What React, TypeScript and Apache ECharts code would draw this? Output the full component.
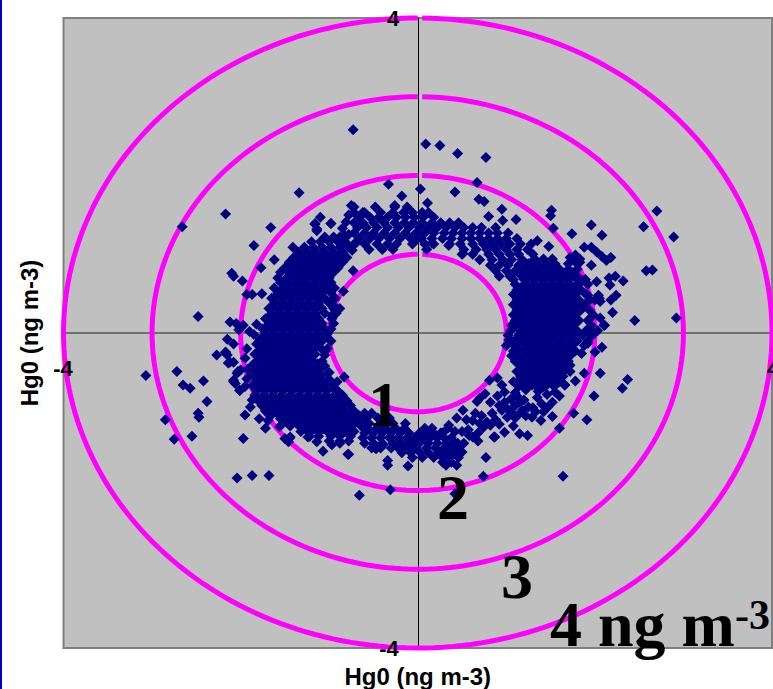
import React, { useEffect, useRef } from "react";
import * as echarts from "echarts";

const axisLabelText = "Hg0 (ng m-3)";
const ringRadii = [1, 2, 3, 4];
const ringLabels = ["1", "2", "3", "4 ng m", "-3"];
const tickMin = "-4";
const tickMax = "4";

// Isolated points, [Hg0 x, Hg0 y]
const outliers = [
  [-0.73,2.58],[-1.34,1.78],[-2.17,1.51],[-2.66,1.35],[-1.66,1.34],[-1.85,1.11],[-1.62,0.93],[-1.77,0.83],[-2.1,0.76],[-2.08,0.72],
  [-1.98,0.66],[-1.93,0.49],[-1.87,0.49],[-1.76,0.5],[-2.48,0.21],[-2.12,0.14],[-2.05,0.12],[-1.97,0.1],[-2.02,0.04],[-1.82,0.11],
  [-1.41,1.09],[-0.33,1.89],[-1.1,1.47],[-1.16,1.38],[-1.14,1.3],[-0.98,1.39],[-0.73,0.79],[-0.84,0.53],[-1.9,0.02],[-1.85,-0.02],
  [0.09,2.4],[0.25,2.38],[0.45,2.28],[0.77,2.23],[0.67,1.91],[0.03,1.83],[0.42,1.79],[0.69,1.7],[0.75,1.67],[0.95,1.57],[0.11,1.65],
  [1.51,1.56],[1.5,1.49],[1.11,1.44],[0.96,1.43],[0.8,1.48],[1.53,1.33],[1.96,1.37],[1.74,1.26],[2.08,1.24],[2.7,1.55],[2.55,1.35],[2.89,1.22],
  [1.35,1.17],[1.48,1.1],[1.88,1.09],[1.96,1.09],[2.02,1.03],[2.08,0.97],[2.13,0.92],[2.18,0.96],[1.96,0.86],[2.58,0.79],[2.65,0.8],
  [2.23,0.72],[2.16,0.7],[2.32,0.66],[2.17,0.61],[2.02,0.65],[2.24,0.48],[2.18,0.42],[2.2,0.26],[2.45,0.16],[2.92,0.19],[2.1,0.1],
  [2.04,0.48],[2.06,0.4],[1.89,0.68],[1.76,0.73],[0.35,1.11],[-0.03,1.17],[0.16,1.14],[0.51,1.01],
  [-3.07,-0.54],[-2.72,-0.49],[-2.65,-0.66],[-2.57,-0.7],[-2.42,-0.61],[-2.38,-0.87],[-2.48,-1.02],[-2.47,-1.07],[-2.85,-1.1],[-2.75,-1.35],
  [-2.55,-1.31],[-1.97,-1.34],[-2.04,-1.84],[-1.87,-1.81],[-1.68,-1.81],[-2.27,-0.28],[-2.17,-0.25],[-2.12,-0.37],[-2.08,-0.62],[-2.01,-0.73],
  [-2.03,-0.49],[-1.95,-1.04],[-1.79,-1.09],[-1.69,-1.11],[-1.72,-1.21],[-1.56,-1.19],[-1.45,-1.34],[-1.07,-1.5],[-0.78,-1.54],[-0.34,-1.62],
  [-0.34,-1.68],[-0.31,-1.99],[-0.66,-2.06],[-0.47,-1.47],[-0.83,-0.56],
  [2.06,-0.51],[2.37,-0.59],[2.31,-0.7],[1.99,-0.8],[1.76,-1.02],[1.91,-1.1],[1.6,-1.21],[1.64,-1.82],[0.77,-1.58],[0.74,-1.82],[0.42,-2.04],
  [-0.11,-1.69],[1.15,-1.28],[1.24,-1.3],[0.86,-1.32],[0.81,-0.6],[1.88,-0.51],[1.78,-0.61],[1.52,-1.06],[1.06,-0.29],[0.51,-0.98],[0.44,-1.08],[0.35,-1.17],
  [0.9,-0.57],[0.95,-0.66],[0.98,-0.75],[0.76,-0.77],[0.7,-0.83],[0.67,-0.87],[0.82,-0.88],[0.65,-1.02],[0.62,-1.11],[0.84,-1.02],[0.78,-1.13],
  [0.74,-1.2],[0.82,-1.17],[0.87,-1.32],[0.98,-1.26],[0.98,-0.88],[0.95,-0.98],[1.01,-1.07],[1.1,-1.08],[1.18,-0.98],[1.25,-0.94],[1.1,-0.92],
  [1.29,-1.07],[1.39,-1.11],[1.47,-0.94],[1.52,-0.88],[0.57,-1.23],[0.62,-1.32],[0.68,-1.27],[0.45,-1.4],[0.5,-1.51],
  [1.1,-0.76],[1.29,-0.66],[1.41,-0.69],[1.55,-0.75],[1.66,-0.66],[1.2,-0.85],[1.35,-0.82],[1.05,-0.84],[1.42,-1.0],[1.3,-0.95],
];

// Points along the ragged edges of the clouds
const edgePoints = [
  [-2.15,-0.08],[-2.08,-0.14],[-2.17,-0.24],[-2.15,-0.28],[-2.14,-0.38],[-2.08,-0.37],[-2.0,-0.47],[-2.04,-0.51],[-2.08,-0.6],[-2.06,-0.64],
  [-2.01,-0.73],[-1.95,-0.68],[-1.87,-0.85],[-1.89,-0.94],[-1.84,-0.7],[-1.5,-1.34],[-1.44,-1.32],[-1.46,-1.38],[-1.24,-1.32],[-1.14,-1.38],
  [-0.97,-1.42],[-0.88,-1.4],[-0.79,-1.54],[-0.48,-1.46],[-0.39,-1.42],[-0.31,-1.32],[-1.93,-0.2],[-1.95,-0.32],[-1.92,-0.46],[-1.93,-0.58],
  [-1.13,-0.39],[-0.91,-0.62],[-0.99,-0.6],[-0.9,-0.74],[-1.14,-0.15],[-1.1,-0.12],[-1.0,-0.5],[-1.05,-0.42],
  [-0.97,0.22],[-0.98,-0.1],[-1.02,-0.2],[-1.05,-0.28],[-1.08,-0.36],
  [-1.16,1.39],[-1.14,1.32],[-0.98,1.39],[-0.81,1.41],[-0.85,1.33],[-0.83,1.24],[-0.69,1.15],[-0.62,1.53],[-0.26,1.62],[-0.18,1.74],
  [-0.93,0.44],[-0.95,0.35],[-0.85,1.2],[-0.78,1.25],[-0.8,1.12],[-0.74,1.05],[-0.78,1.5],[-0.75,1.62],
  [1.72,0.96],[1.78,0.99],[1.83,0.9],[1.74,0.77],[1.81,0.71],[1.89,0.68],[1.92,0.48],[2.0,0.42],[2.05,0.44],[1.98,0.23],[2.06,0.19],[2.11,0.1],
  [1.91,0.03],[1.97,-0.03],[2.03,0.03],[1.98,0.0],[1.92,-0.13],[2.0,-0.24],[2.08,-0.18],[1.85,-0.26],[1.72,-0.41],[1.66,-0.66],[1.58,-0.62],
  [1.03,-0.09],[1.08,-0.15],[1.12,-0.8],[1.22,-0.72],[1.36,-0.74],[1.46,-0.78],[1.6,-0.8],[1.0,-0.95],[1.05,-1.0],[1.15,-1.02],[1.22,-1.05],
  [1.33,-1.0],[0.9,-0.8],[0.92,-0.92],[1.15,-0.88],[1.4,-0.9],[0.88,-1.1],[0.92,-1.16],[1.08,-1.18],[0.72,-1.05],[0.7,-1.15],[0.55,-1.1],
  [0.58,-1.3],[0.68,-1.37],[0.5,-1.25],[0.42,-1.25],[0.28,-1.27],[0.52,-1.4],[0.4,-1.52],[0.46,-1.58],
];

// Dense clouds, read row by row: [Hg0 y, [Hg0 x values in that row]]
const leftCloud: [number, number[]][] = [
  [1.22,[-1.05,-0.95,-0.88]],
  [1.16,[-1.2,-1.1,-1.0,-0.9,-0.82]],
  [1.09,[-1.28,-1.18,-1.08,-0.98,-0.88,-0.78]],
  [1.03,[-1.35,-1.25,-1.15,-1.05,-0.95,-0.85]],
  [0.96,[-1.4,-1.3,-1.2,-1.1,-1.0,-0.9,-0.8]],
  [0.9,[-1.45,-1.35,-1.25,-1.15,-1.05,-0.95,-0.85]],
  [0.83,[-1.5,-1.4,-1.3,-1.2,-1.1,-1.0,-0.9]],
  [0.77,[-1.55,-1.45,-1.35,-1.25,-1.15,-1.05,-0.95]],
  [0.7,[-1.58,-1.48,-1.38,-1.28,-1.18,-1.08,-1.0]],
  [0.64,[-1.55,-1.45,-1.35,-1.25,-1.15,-1.05,-0.98]],
  [0.57,[-1.62,-1.52,-1.42,-1.32,-1.22,-1.12,-1.02,-0.94]],
  [0.51,[-1.58,-1.48,-1.38,-1.28,-1.18,-1.08,-0.98]],
  [0.44,[-1.65,-1.55,-1.45,-1.35,-1.25,-1.15,-1.05,-0.95]],
  [0.38,[-1.62,-1.52,-1.42,-1.32,-1.22,-1.12,-1.0]],
  [0.31,[-1.68,-1.58,-1.48,-1.38,-1.28,-1.18,-1.08,-0.95,-0.88]],
  [0.25,[-1.65,-1.55,-1.45,-1.35,-1.25,-1.15,-1.05,-0.92]],
  [0.18,[-1.72,-1.62,-1.52,-1.42,-1.32,-1.22,-1.12,-0.97]],
  [0.12,[-1.68,-1.58,-1.48,-1.38,-1.28,-1.18,-1.08,-0.95]],
  [0.05,[-1.75,-1.65,-1.55,-1.45,-1.35,-1.25,-1.15,-1.05,-0.98]],
  [-0.01,[-1.72,-1.62,-1.52,-1.42,-1.32,-1.22,-1.12,-1.02]],
  [-0.08,[-1.78,-1.68,-1.58,-1.48,-1.38,-1.28,-1.18,-1.06]],
  [-0.14,[-1.82,-1.72,-1.62,-1.52,-1.42,-1.32,-1.22,-1.12]],
  [-0.21,[-1.78,-1.68,-1.58,-1.48,-1.38,-1.28,-1.18,-1.08]],
  [-0.27,[-1.84,-1.74,-1.64,-1.54,-1.44,-1.34,-1.24,-1.16]],
  [-0.34,[-1.8,-1.7,-1.6,-1.5,-1.4,-1.3,-1.2]],
  [-0.4,[-1.86,-1.76,-1.66,-1.56,-1.46,-1.36,-1.26,-1.16]],
  [-0.47,[-1.82,-1.72,-1.62,-1.52,-1.42,-1.32,-1.22,-1.12]],
  [-0.53,[-1.86,-1.76,-1.66,-1.56,-1.46,-1.36,-1.26,-1.16,-1.08]],
  [-0.6,[-1.82,-1.72,-1.62,-1.52,-1.42,-1.32,-1.22,-1.12,-1.02]],
  [-0.66,[-1.86,-1.76,-1.66,-1.56,-1.46,-1.36,-1.26,-1.16,-1.06,-0.96]],
  [-0.73,[-1.82,-1.72,-1.62,-1.52,-1.42,-1.32,-1.22,-1.12,-1.02,-0.92]],
  [-0.79,[-1.84,-1.74,-1.64,-1.54,-1.44,-1.34,-1.24,-1.14,-1.04,-0.94,-0.85]],
  [-0.86,[-1.8,-1.7,-1.6,-1.5,-1.4,-1.3,-1.2,-1.1,-1.0,-0.9,-0.8]],
  [-0.92,[-1.76,-1.66,-1.56,-1.46,-1.36,-1.26,-1.16,-1.06,-0.96,-0.86,-0.76]],
  [-0.99,[-1.72,-1.62,-1.52,-1.42,-1.32,-1.22,-1.12,-1.02,-0.92,-0.82,-0.72]],
  [-1.05,[-1.66,-1.56,-1.46,-1.36,-1.26,-1.16,-1.06,-0.96,-0.86,-0.76,-0.66]],
  [-1.12,[-1.5,-1.4,-1.3,-1.2,-1.1,-1.0,-0.9,-0.8,-0.7,-0.6]],
  [-1.18,[-1.44,-1.34,-1.24,-1.14,-1.04,-0.94,-0.84,-0.74,-0.64]],
  [-1.25,[-1.32,-1.22,-1.12,-1.02,-0.92,-0.82,-0.72]],
  [-1.31,[-1.22,-1.12,-0.98,-0.88,-0.76]],
  [-1.37,[-1.0,-0.88,-0.78]],
];

// Second reading of the solid parts of the left and right clouds
const leftCore: [number, number[]][] = [
  [1.0,[-1.25,-1.15,-1.05,-0.95]],[0.87,[-1.37,-1.27,-1.17,-1.07,-0.97]],[0.74,[-1.42,-1.32,-1.22,-1.12,-1.02]],
  [0.6,[-1.5,-1.4,-1.3,-1.2,-1.1]],[0.47,[-1.6,-1.5,-1.4,-1.3,-1.2,-1.1]],[0.34,[-1.63,-1.53,-1.43,-1.33,-1.23,-1.13]],
  [0.21,[-1.67,-1.57,-1.47,-1.37,-1.27,-1.17]],[0.08,[-1.7,-1.6,-1.5,-1.4,-1.3,-1.2,-1.1]],[-0.05,[-1.73,-1.63,-1.53,-1.43,-1.33,-1.23,-1.13]],
  [-0.18,[-1.75,-1.65,-1.55,-1.45,-1.35,-1.25,-1.15]],[-0.31,[-1.77,-1.67,-1.57,-1.47,-1.37,-1.27]],[-0.44,[-1.77,-1.67,-1.57,-1.47,-1.37,-1.27,-1.17]],
  [-0.57,[-1.79,-1.69,-1.59,-1.49,-1.39,-1.29,-1.19]],[-0.7,[-1.79,-1.69,-1.59,-1.49,-1.39,-1.29,-1.19,-1.09]],[-0.83,[-1.75,-1.65,-1.55,-1.45,-1.35,-1.25,-1.15,-1.05,-0.95]],
  [-0.96,[-1.67,-1.57,-1.47,-1.37,-1.27,-1.17,-1.07,-0.97,-0.87]],[-1.09,[-1.55,-1.45,-1.35,-1.25,-1.15,-1.05,-0.95,-0.85,-0.75]],[-1.22,[-1.27,-1.17,-1.07,-0.97,-0.87,-0.77]],
];

const rightCore: [number, number[]][] = [
  [0.71,[1.25,1.35,1.45,1.55,1.65]],[0.58,[1.17,1.27,1.37,1.47,1.57,1.67,1.77]],[0.45,[1.17,1.27,1.37,1.47,1.57,1.67,1.77]],
  [0.32,[1.17,1.27,1.37,1.47,1.57,1.67,1.77]],[0.19,[1.15,1.25,1.35,1.45,1.55,1.65,1.75]],[0.06,[1.13,1.23,1.33,1.43,1.53,1.63,1.73]],
  [-0.07,[1.12,1.23,1.33,1.43,1.53,1.63,1.73]],[-0.2,[1.13,1.23,1.33,1.43,1.53,1.63,1.73]],[-0.33,[1.17,1.27,1.37,1.47,1.57,1.67]],
  [-0.46,[1.17,1.27,1.37,1.47,1.57,1.67]],[-0.59,[1.15,1.25,1.35,1.45,1.55]],
];

const topArc: [number, number[]][] = [
  [1.6,[-0.72,-0.48,-0.26,-0.12]],
  [1.53,[-0.72,-0.6,-0.42,-0.28,-0.16,-0.06,0.05,0.12]],
  [1.47,[-0.66,-0.54,-0.44,-0.34,-0.24,-0.14,-0.04,0.06,0.18]],
  [1.4,[-0.72,-0.62,-0.5,-0.38,-0.26,-0.15,-0.05,0.05,0.16,0.26,0.36,0.46]],
  [1.34,[-0.68,-0.58,-0.46,-0.34,-0.22,-0.1,0.02,0.12,0.22,0.32,0.42,0.52,0.62,0.72,0.88]],
  [1.27,[-0.72,-0.6,-0.5,-0.38,-0.26,-0.14,-0.02,0.08,0.18,0.3,0.4,0.5,0.6,0.7,0.8,0.9,1.02]],
  [1.2,[-0.66,-0.54,-0.44,-0.32,-0.2,-0.08,0.04,0.16,0.28,0.38,0.5,0.6,0.7,0.8,0.9,1.0,1.12]],
  [1.13,[-0.72,-0.6,-0.46,-0.34,-0.24,-0.06,0.08,0.18,0.36,0.48,0.62,0.74,0.84,0.94,1.04,1.16,1.28]],
  [1.06,[-0.55,-0.4,-0.28,0.1,0.52,0.66,0.78,0.88,1.0,1.12,1.24]],
  [1.0,[0.5,0.62,0.8,0.92,1.04,1.14,1.3]],
  [0.93,[0.7,0.84,0.96,1.06,1.18,1.32]],
  [0.86,[0.82,0.92,1.02,1.14]],
  [0.79,[0.88,1.0,1.1]],
  [0.72,[0.92,1.04]],
];

const rightCloud: [number, number[]][] = [
  [0.94,[1.32,1.42,1.52,1.75,1.83]],
  [0.88,[1.25,1.35,1.45,1.55,1.7,1.8]],
  [0.81,[1.2,1.3,1.4,1.5,1.6,1.7,1.8]],
  [0.75,[1.15,1.25,1.35,1.45,1.55,1.65,1.75]],
  [0.68,[1.08,1.2,1.3,1.4,1.5,1.6,1.7,1.8]],
  [0.62,[1.1,1.22,1.32,1.42,1.52,1.62,1.72,1.82,1.92]],
  [0.55,[1.12,1.22,1.32,1.42,1.52,1.62,1.72,1.84]],
  [0.49,[1.08,1.18,1.28,1.38,1.48,1.58,1.68,1.78,1.9]],
  [0.42,[1.12,1.22,1.32,1.42,1.52,1.62,1.72,1.82,1.94]],
  [0.36,[1.08,1.18,1.28,1.38,1.48,1.58,1.68,1.78,1.88]],
  [0.29,[1.12,1.22,1.32,1.42,1.52,1.62,1.72,1.84,1.94]],
  [0.23,[1.08,1.18,1.28,1.38,1.48,1.58,1.68,1.78,1.98]],
  [0.16,[1.1,1.2,1.3,1.4,1.5,1.6,1.7,1.82,1.92]],
  [0.1,[1.06,1.16,1.26,1.36,1.46,1.56,1.66,1.76,1.96]],
  [0.03,[1.05,1.18,1.28,1.38,1.48,1.58,1.68,1.8,1.9]],
  [-0.03,[1.02,1.14,1.24,1.34,1.44,1.54,1.64,1.74,1.86,1.97]],
  [-0.1,[1.06,1.18,1.28,1.38,1.48,1.58,1.68,1.8,1.92]],
  [-0.16,[1.0,1.12,1.24,1.34,1.44,1.54,1.64,1.74,1.88]],
  [-0.23,[1.08,1.18,1.28,1.38,1.48,1.58,1.68,1.78]],
  [-0.29,[1.14,1.24,1.34,1.44,1.54,1.64,1.72]],
  [-0.36,[1.1,1.2,1.3,1.4,1.5,1.6,1.7]],
  [-0.42,[1.16,1.26,1.36,1.46,1.56,1.66]],
  [-0.49,[1.12,1.22,1.32,1.42,1.52,1.62,1.72]],
  [-0.55,[1.16,1.26,1.36,1.46,1.56,1.64]],
  [-0.62,[1.08,1.2,1.3,1.4,1.5,1.6]],
  [-0.68,[1.14,1.24,1.34,1.44,1.54]],
];

const bottomArc: [number, number[]][] = [
  [-1.02,[-0.6,-0.52]],
  [-1.08,[-0.58,-0.45,-0.32]],
  [-1.15,[-0.55,-0.42,-0.28,-0.14]],
  [-1.21,[-0.56,-0.46,-0.36,-0.25,-0.15,0.08,0.16,0.34]],
  [-1.27,[-0.6,-0.5,-0.4,-0.3,-0.2,-0.1,0.02,0.1,0.18,0.26]],
  [-1.33,[-0.62,-0.52,-0.42,-0.32,-0.22,-0.12,-0.03,0.06,0.14,0.22,0.3,0.38]],
  [-1.4,[-0.6,-0.5,-0.4,-0.28,-0.18,-0.08,0.02,0.12,0.22,0.32,0.42]],
  [-1.46,[-0.52,-0.42,-0.3,-0.22,-0.12,-0.02,0.1,0.2,0.3,0.38,0.46]],
  [-1.52,[-0.18,-0.08,0.03,0.12,0.24,0.34,0.42]],
  [-1.58,[-0.06,0.05,0.18,0.28,0.36]],
  [-1.64,[0.28,0.38]],
  [-1.68,[0.32,0.44]],
];

const unpack = (rows: [number, number[]][]) => rows.flatMap(([y, xs]) => xs.map((x) => [x, y]));
const points = [
  ...unpack(topArc), ...unpack(bottomArc), ...unpack(leftCloud), ...unpack(leftCore),
  ...unpack(rightCloud), ...unpack(rightCore), ...edgePoints, ...outliers,
];

const serif = '"Liberation Serif", "Times New Roman", serif';
const sans = '"Liberation Sans", Arial, sans-serif';

export default function App() {
  const ref = useRef<HTMLDivElement>(null);
  useEffect(() => {
    const chart = echarts.init(ref.current!, undefined, { renderer: "svg" });
    const bigLabel = (text: string, x: number, y: number, size = 64) => ({
      type: "text", x, y, z: 50,
      style: { text, font: `bold ${size}px ${serif}`, fill: "#000", textAlign: "left", textVerticalAlign: "bottom" },
    });
    const tickLabel = (text: string, x: number, y: number) => ({
      type: "text", x, y, z: 50,
      style: { text, font: `bold 22px ${sans}`, fill: "#000", textAlign: "center", textVerticalAlign: "middle" },
    });
    chart.setOption({
      animation: false,
      backgroundColor: "#fff",
      grid: { left: 63.5, top: 18, width: 708.5, height: 630, outerBoundsMode: "none", show: false },
      xAxis: {
        type: "value", min: -4, max: 4, interval: 4, z: 1,
        position: "bottom", offset: -315,
        name: axisLabelText, nameLocation: "middle", nameGap: 331,
        nameTextStyle: { fontFamily: sans, fontWeight: "bold", fontSize: 24, color: "#000" },
        axisLine: { onZero: false, lineStyle: { color: "#555", width: 1.5 } },
        axisTick: { show: false }, splitLine: { show: false }, axisLabel: { show: false },
      },
      yAxis: {
        type: "value", min: -4, max: 4, interval: 4, z: 1,
        position: "left", offset: -354.25,
        name: axisLabelText, nameLocation: "middle", nameGap: 376,
        nameTextStyle: { fontFamily: sans, fontWeight: "bold", fontSize: 24, color: "#000" },
        axisLine: { onZero: false, lineStyle: { color: "#000", width: 1 } },
        axisTick: { show: false }, splitLine: { show: false }, axisLabel: { show: false },
      },
      series: [
        {
          type: "custom",
          coordinateSystem: "cartesian2d",
          clip: false,
          silent: true,
          z: 2,
          encode: { x: 0 },
          data: ringRadii.map((r) => [r]),
          renderItem: (_p: any, api: any) => {
            const r = api.value(0);
            const c = api.coord([0, 0]);
            const [rx, ry] = api.size([r, r]);
            const pts: number[][] = [];
            const gap = 0.05 / r;
            for (let i = 0; i <= 240; i++) {
              const t = gap + ((2 * Math.PI - gap) * i) / 240;
              pts.push([c[0] + rx * Math.sin(t), c[1] - ry * Math.cos(t)]);
            }
            return { type: "polyline", shape: { points: pts }, style: { stroke: "#ff00ff", lineWidth: 5, fill: "none" } };
          },
        },
        {
          type: "scatter",
          symbol: "diamond",
          symbolSize: 11,
          clip: false,
          z: 3,
          itemStyle: { color: "#000080", opacity: 1 },
          data: points,
        },
      ],
      graphic: [
        { type: "rect", z: -10, silent: true, shape: { x: 63.5, y: 18, width: 708.5, height: 630 }, style: { fill: "#c0c0c0", stroke: "#808080", lineWidth: 2 } },
        { type: "rect", shape: { x: 0, y: 0, width: 2, height: 689 }, style: { fill: "#0000c0" }, z: 60 },
        tickLabel(tickMax, 393, 18),
        tickLabel(tickMin, 389, 648),
        tickLabel(tickMin, 63, 368),
        tickLabel(tickMax, 773, 368),
        bigLabel(ringLabels[0], 368, 436),
        bigLabel(ringLabels[1], 437, 529),
        bigLabel(ringLabels[2], 501, 608),
        bigLabel(ringLabels[3], 550, 656),
        bigLabel(ringLabels[4], 735, 636, 42),
      ],
    });
    return () => chart.dispose();
  }, []);
  return <div ref={ref} style={{ position: "absolute", left: 0, top: 0, width: 773, height: 689 }} />;
}
